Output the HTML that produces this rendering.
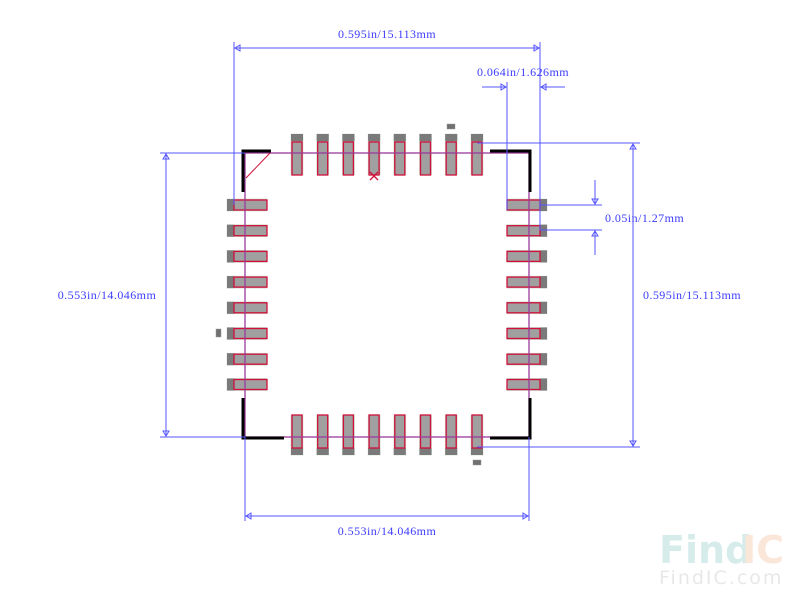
<!DOCTYPE html>
<html><head><style>
body{margin:0;background:#fff;}
svg{display:block}
text{font-family:"Liberation Serif","Noto Serif CJK SC",serif;font-size:12px;fill:#3c3cff;letter-spacing:0.45px;}
</style></head><body>
<svg width="800" height="605" xmlns="http://www.w3.org/2000/svg">
<defs>
<g id="tp"><rect x="-6" y="0" width="12" height="41" fill="#a0a0a0" stroke="#c8d8c8" stroke-width="0.6"/><rect x="-6" y="0" width="12" height="7" fill="#7a7a7a"/><rect x="-5" y="8" width="10" height="33" fill="none" stroke="#d0103a" stroke-width="1.3"/></g>
<g id="bp"><rect x="-6" y="0" width="12" height="40" fill="#a0a0a0" stroke="#c8d8c8" stroke-width="0.6"/><rect x="-6" y="33" width="12" height="7" fill="#7a7a7a"/><rect x="-5" y="0" width="10" height="33" fill="none" stroke="#d0103a" stroke-width="1.3"/></g>
<g id="lp"><rect x="0" y="-6" width="40" height="12" fill="#a0a0a0" stroke="#c8d8c8" stroke-width="0.6"/><rect x="0" y="-6" width="7" height="12" fill="#7a7a7a"/><rect x="7" y="-5" width="33" height="10" fill="none" stroke="#d0103a" stroke-width="1.3"/></g>
<g id="rp"><rect x="0" y="-6" width="40" height="12" fill="#a0a0a0" stroke="#c8d8c8" stroke-width="0.6"/><rect x="33" y="-6" width="7" height="12" fill="#7a7a7a"/><rect x="0" y="-5" width="33" height="10" fill="none" stroke="#d0103a" stroke-width="1.3"/></g>
</defs>
<g>
<use href="#tp" x="297" y="134"/><use href="#tp" x="322.7" y="134"/><use href="#tp" x="348.4" y="134"/><use href="#tp" x="374.1" y="134"/><use href="#tp" x="399.8" y="134"/><use href="#tp" x="425.5" y="134"/><use href="#tp" x="451.2" y="134"/><use href="#tp" x="477" y="134"/>
<use href="#bp" x="297" y="415"/><use href="#bp" x="322.7" y="415"/><use href="#bp" x="348.4" y="415"/><use href="#bp" x="374.1" y="415"/><use href="#bp" x="399.8" y="415"/><use href="#bp" x="425.5" y="415"/><use href="#bp" x="451.2" y="415"/><use href="#bp" x="477" y="415"/>
<use href="#lp" x="227" y="205"/><use href="#lp" x="227" y="230.7"/><use href="#lp" x="227" y="256.4"/><use href="#lp" x="227" y="282.1"/><use href="#lp" x="227" y="307.8"/><use href="#lp" x="227" y="333.5"/><use href="#lp" x="227" y="359.2"/><use href="#lp" x="227" y="384.5"/>
<use href="#rp" x="507" y="205"/><use href="#rp" x="507" y="230.7"/><use href="#rp" x="507" y="256.4"/><use href="#rp" x="507" y="282.1"/><use href="#rp" x="507" y="307.8"/><use href="#rp" x="507" y="333.5"/><use href="#rp" x="507" y="359.2"/><use href="#rp" x="507" y="384.5"/>
</g>
<rect x="447" y="124" width="8" height="5" fill="#707070" stroke="#999" stroke-width="0.5"/>
<rect x="216" y="329" width="5" height="8" fill="#707070" stroke="#999" stroke-width="0.5"/>
<rect x="473" y="460" width="8" height="5" fill="#707070" stroke="#999" stroke-width="0.5"/>
<rect x="245" y="153" width="284" height="284" fill="none" stroke="#9a3a9a" stroke-width="1.3"/>
<line x1="246" y1="178" x2="270" y2="153" stroke="#d0103a" stroke-width="1"/>
<g stroke="#000" stroke-width="3" fill="none">
<polyline points="243,192 243,151 271,151"/>
<polyline points="490,151 530,151 530,192"/>
<polyline points="243,398 243,438 284,438"/>
<polyline points="490,438 530,438 530,398"/>
</g>
<g stroke="#d0103a" stroke-width="1.3"><line x1="370" y1="172" x2="378" y2="180"/><line x1="378" y1="172" x2="370" y2="180"/></g>
<g stroke="#5555ff" stroke-width="1" fill="none">
<line x1="234" y1="42" x2="234" y2="205"/><line x1="540" y1="42" x2="540" y2="230"/><line x1="234" y1="48" x2="540" y2="48"/>
<line x1="507" y1="82" x2="507" y2="210"/><line x1="482" y1="87" x2="507" y2="87"/><line x1="540" y1="87" x2="565" y2="87"/>
<line x1="160" y1="153" x2="245" y2="153"/><line x1="160" y1="437" x2="245" y2="437"/><line x1="166" y1="153" x2="166" y2="437"/>
<line x1="477" y1="143" x2="640" y2="143"/><line x1="477" y1="447" x2="640" y2="447"/><line x1="633" y1="143" x2="633" y2="447"/>
<line x1="245" y1="437" x2="245" y2="521"/><line x1="529" y1="437" x2="529" y2="521"/><line x1="245" y1="516" x2="529" y2="516"/>
<line x1="540" y1="205" x2="602" y2="205"/><line x1="540" y1="230" x2="602" y2="230"/>
<line x1="595" y1="180" x2="595" y2="205"/><line x1="595" y1="230" x2="595" y2="255"/>
<path d="M235,48 l5,-3 v6 z M539,48 l-5,-3 v6 z M506,87 l-5,-3 v6 z M541,87 l5,-3 v6 z M166,154 l-3,5 h6 z M166,436 l-3,-5 h6 z M633,144 l-3,5 h6 z M633,446 l-3,-5 h6 z M246,516 l5,-3 v6 z M528,516 l-5,-3 v6 z M595,204 l-3,-5 h6 z M595,231 l-3,5 h6 z"/>
</g>
<text x="387" y="38" text-anchor="middle">0.595in/15.113mm</text>
<text x="523" y="76" text-anchor="middle">0.064in/1.626mm</text>
<text x="605" y="222">0.05in/1.27mm</text>
<text x="107" y="299" text-anchor="middle">0.553in/14.046mm</text>
<text x="692" y="299" text-anchor="middle">0.595in/15.113mm</text>
<text x="387" y="535" text-anchor="middle">0.553in/14.046mm</text>
<text x="659" y="563" style="font-family:'DejaVu Sans',sans-serif;font-size:38px;font-weight:bold;fill:#d6ecea;letter-spacing:0;">Find</text><text x="742" y="563" style="font-family:'DejaVu Sans',sans-serif;font-size:38px;font-weight:bold;fill:#fbe6da;letter-spacing:0;">IC</text>
<text x="659" y="584" style="font-family:'DejaVu Sans',sans-serif;font-size:19px;fill:#e8e8e8;letter-spacing:2px;">FindIC.com</text>
</svg>
</body></html>
